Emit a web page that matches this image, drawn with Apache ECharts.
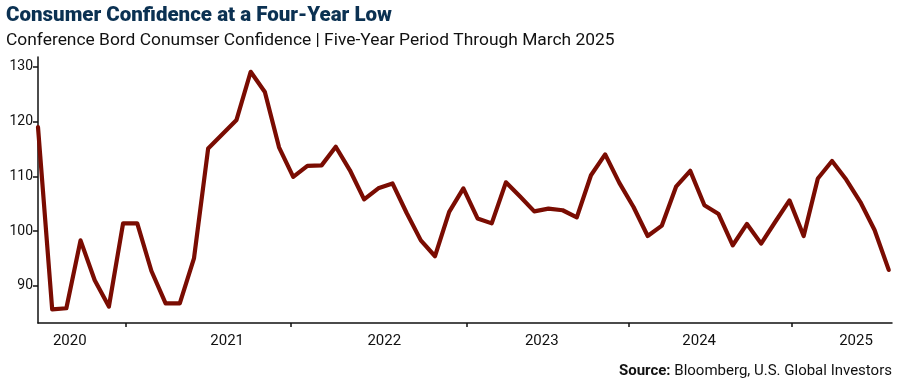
<!DOCTYPE html>
<html>
<head>
<meta charset="utf-8">
<script src="https://cdn.jsdelivr.net/npm/echarts@6/dist/echarts.min.js"></script>
<style>
html,body{margin:0;padding:0;background:#fff;}
#chart{width:900px;height:384px;}
</style>
</head>
<body>
<div id="chart"></div>
<script>
// Monthly months, Mar 2020 .. Mar 2025
const months = [];
(function(){ let y=2020,m=3; for(let i=0;i<61;i++){ months.push(y+'-'+String(m).padStart(2,'0')); m++; if(m>12){m=1;y++;} } })();

const confidence = [
  119.0, 85.7, 85.9, 98.3, 91.0, 86.2, 101.4, 101.4, 92.7, 86.8,
  86.8, 95.0, 115.1, 117.7, 120.3, 129.1, 125.4, 115.3, 109.9, 111.9,
  112.0, 115.4, 111.1, 105.8, 107.8, 108.7, 103.3, 98.3, 95.4, 103.5,
  107.8, 102.3, 101.4, 108.9, 106.3, 103.6, 104.1, 103.8, 102.5, 110.2,
  114.0, 108.8, 104.4, 99.1, 101.0, 108.1, 111.0, 104.7, 103.1, 97.4,
  101.3, 97.7, 101.7, 105.6, 99.1, 109.6, 112.8, 109.4, 105.3, 100.2,
  92.9
];

const yearLabels = ['2020','2021','2022','2023','2024','2025'];
// positions (in month-index units) where the year labels and ticks sit in the original
const yearLabelAt = [2.24, 13.34, 24.42, 35.53, 46.63, 57.69];
const yearTickAt = [6.19, 17.81, 30.23, 41.69, 53.14];
const yTicks = [90, 100, 110, 120, 130];

const chart = echarts.init(document.getElementById('chart'), null, {renderer:'canvas'});
const FONT = 'Roboto, "Noto Sans", sans-serif';

chart.setOption({
  animation: false,
  backgroundColor: '#ffffff',
  title: [
    {
      text: 'Consumer Confidence at a Four-Year Low',
      left: 6, top: 4, padding: 0,
      textStyle: {fontFamily: FONT, fontSize: 20.5, fontWeight: 900, color: '#0b3152', lineHeight: 24}
    },
    {
      text: 'Conference Bord Conumser Confidence | Five-Year Period Through March 2025',
      left: 6, top: 30, padding: 0,
      textStyle: {fontFamily: FONT, fontSize: 17.4, fontWeight: 'normal', color: '#111111', lineHeight: 22}
    },
    {
      text: '{b|Source:} {n|Bloomberg, U.S. Global Investors}',
      right: 8, top: 364, padding: 0,
      textStyle: {
        fontFamily: FONT, fontSize: 15, color: '#111111',
        rich: {
          b: {fontFamily: FONT, fontSize: 15, fontWeight: 'bold', color: '#111111'},
          n: {fontFamily: FONT, fontSize: 15, fontWeight: 'normal', color: '#111111'}
        }
      }
    }
  ],
  grid: {left: 38, right: 8, top: 57, bottom: 61, containLabel: false},
  xAxis: {
    type: 'value',
    min: 0, max: 60.23,
    axisLine: {show: true, lineStyle: {color: '#111111', width: 1.5}},
    axisTick: {show: true, customValues: yearTickAt, length: 4, inside: false, lineStyle: {color: '#111111', width: 1.5}},
    axisLabel: {
      show: true,
      customValues: yearLabelAt,
      margin: 11,
      fontFamily: FONT, fontSize: 15, color: '#111111',
      formatter: function(v){
        let best = 0, d = 1e9;
        yearLabelAt.forEach((p,i)=>{ const dd=Math.abs(p-v); if(dd<d){d=dd;best=i;} });
        return yearLabels[best];
      }
    },
    splitLine: {show: false}
  },
  yAxis: {
    type: 'value',
    min: 83.2, max: 131.8,
    axisLine: {show: true, lineStyle: {color: '#111111', width: 1.5}},
    axisTick: {show: true, customValues: yTicks, length: 5, lineStyle: {color: '#111111', width: 1.5}},
    axisLabel: {show: true, customValues: yTicks, margin: 5, fontFamily: FONT, fontSize: 14, color: '#111111'},
    splitLine: {show: false}
  },
  series: [{
    type: 'line',
    data: confidence.map((v,i)=>[i, v]),
    showSymbol: false,
    symbol: 'none',
    lineStyle: {color: '#7a0c02', width: 4.2, join: 'round', cap: 'round'},
    itemStyle: {color: '#7a0c02'}
  }]
});
</script>
</body>
</html>
